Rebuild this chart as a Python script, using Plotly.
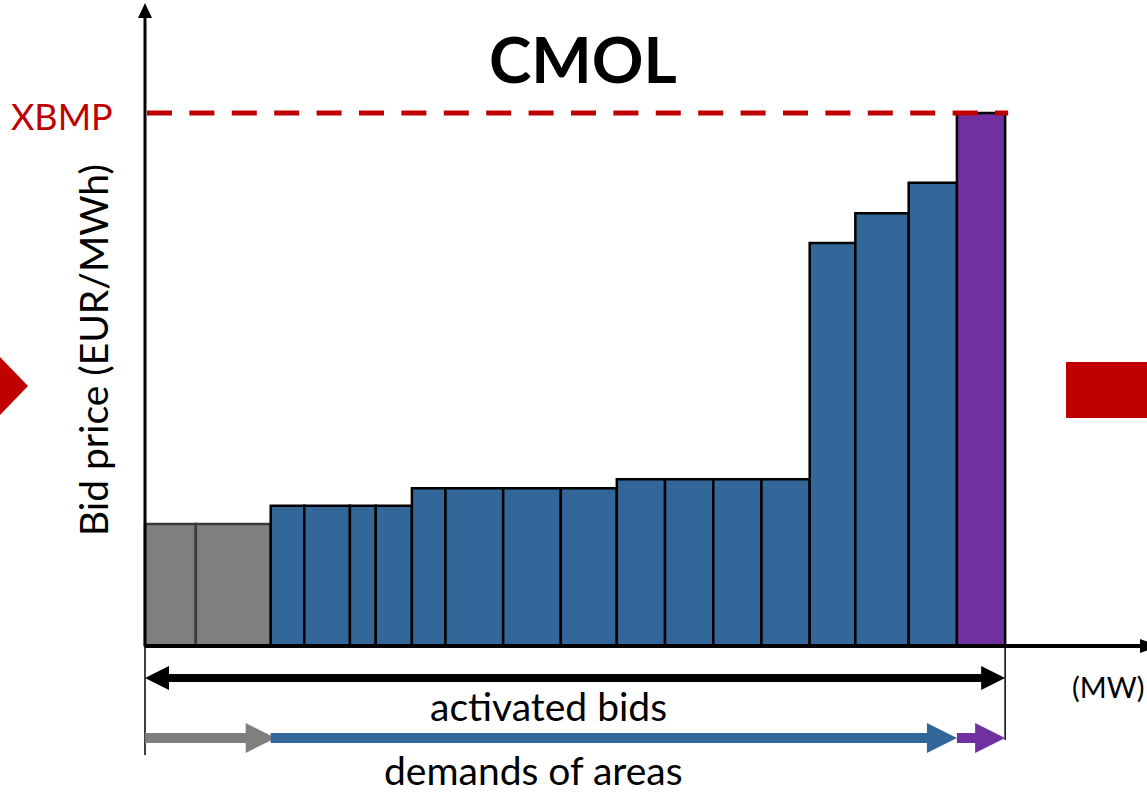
import numpy as np
import plotly.graph_objects as go

# ---- data ----
bid_widths_mw = [5.9, 8.7, 3.9, 5.3, 3.0, 4.2, 3.9, 6.7, 6.7, 6.5, 5.6, 5.6, 5.6, 5.6, 5.3, 6.2, 5.6, 5.6]
bid_prices = [22.9, 22.9, 26.3, 26.3, 26.3, 26.3, 29.6, 29.6, 29.6, 29.6, 31.3, 31.3, 31.3, 31.3, 75.6, 81.2, 86.9, 100.0]
bid_area = ["A", "A", "B", "B", "B", "B", "B", "B", "B", "B", "B", "B", "B", "B", "B", "B", "B", "C"]
xbmp_price = 100.0

# ---- layout geometry (pixels) ----
W, H = 1147, 792
X0_PX, PX_PER_MW = 145, 8.61
Y0_PX, PX_PER_EUR = 646, 5.33


def px2x(px):
    return (px - X0_PX) / PX_PER_MW


def px2y(py):
    return (Y0_PX - py) / PX_PER_EUR


def dx(px):
    return px / PX_PER_MW


def dy(px):
    return px / PX_PER_EUR


area_fill = {"A": "#7F7F7F", "B": "#336699", "C": "#7030A0"}
area_line = {"A": "#3A3A3A", "B": "#000000", "C": "#000000"}

edges = np.concatenate([[0], np.cumsum(bid_widths_mw)])
centers = (edges[:-1] + edges[1:]) / 2
total = edges[-1]

fig = go.Figure()
fig.add_trace(go.Bar(
    x=centers, y=bid_prices, width=bid_widths_mw,
    marker=dict(color=[area_fill[a] for a in bid_area],
                line=dict(color=[area_line[a] for a in bid_area], width=2.5)),
    hoverinfo="skip", showlegend=False,
))

shapes = []
RED = "#C00000"

# XBMP dashed line
shapes.append(dict(type="line", x0=px2x(147), x1=total + dx(3), y0=xbmp_price, y1=xbmp_price,
                   line=dict(color=RED, width=5, dash="25px,17.4px"), layer="above"))

# y axis with arrow
shapes.append(dict(type="line", x0=0, x1=0, y0=0, y1=px2y(14),
                   line=dict(color="black", width=3), layer="above"))
shapes.append(dict(type="path",
                   path=f"M {dx(-7)},{px2y(18)} L 0,{px2y(3)} L {dx(7)},{px2y(18)} Z",
                   fillcolor="black", line=dict(width=0), layer="above"))
# x axis with arrow
shapes.append(dict(type="line", x0=0, x1=px2x(1147), y0=0, y1=0,
                   line=dict(color="black", width=4), layer="above"))
shapes.append(dict(type="path",
                   path=f"M {px2x(1140)},{dy(7)} L {px2x(1160)},0 L {px2x(1140)},{dy(-7)} Z",
                   fillcolor="black", line=dict(width=0), layer="above"))

# thin vertical guides
shapes.append(dict(type="line", x0=0, x1=0, y0=0, y1=px2y(755),
                   line=dict(color="black", width=1.5)))
shapes.append(dict(type="line", x0=total, x1=total, y0=0, y1=px2y(740),
                   line=dict(color="black", width=1.5)))

# activated bids double arrow
ya = px2y(678)
shapes.append(dict(type="line", x0=dx(20), x1=total - dx(20), y0=ya, y1=ya,
                   line=dict(color="black", width=8)))
shapes.append(dict(type="path",
                   path=f"M 0,{ya} L {dx(24)},{ya + dy(12)} L {dx(24)},{ya - dy(12)} Z",
                   fillcolor="black", line=dict(width=0)))
shapes.append(dict(type="path",
                   path=f"M {total},{ya} L {total - dx(24)},{ya + dy(12)} L {total - dx(24)},{ya - dy(12)} Z",
                   fillcolor="black", line=dict(width=0)))

# demand arrows per area
yd = px2y(738)
areas_order = ["A", "B", "C"]
for a in areas_order:
    idx = [i for i, b in enumerate(bid_area) if b == a]
    s, e = edges[idx[0]], edges[idx[-1] + 1]
    tip = e + (dx(5) if a == "A" else 0)
    head = dx(30)
    shapes.append(dict(type="line", x0=s, x1=tip - head + dx(2), y0=yd, y1=yd,
                       line=dict(color=area_fill[a], width=10)))
    shapes.append(dict(type="path",
                       path=f"M {tip},{yd} L {tip - head},{yd + dy(15)} L {tip - head},{yd - dy(15)} Z",
                       fillcolor=area_fill[a], line=dict(width=0)))

# red decorations at the sides
shapes.append(dict(type="path",
                   path=f"M {px2x(-30)},{px2y(357)} L {px2x(0)},{px2y(357)} L {px2x(28)},{px2y(386)} L {px2x(0)},{px2y(415)} L {px2x(-30)},{px2y(415)} Z",
                   fillcolor=RED, line=dict(width=0)))
shapes.append(dict(type="rect", x0=px2x(1066), x1=px2x(1160), y0=px2y(418), y1=px2y(362),
                   fillcolor=RED, line=dict(width=0)))

FONT = "Lato, 'Open Sans', sans-serif"
annotations = [
    dict(x=px2x(583), y=px2y(58), text="<b>CMOL</b>", showarrow=False,
         font=dict(family=FONT, size=64, color="black")),
    dict(x=px2x(62), y=xbmp_price, text="XBMP", showarrow=False, yshift=-3,
         font=dict(family=FONT, size=36, color=RED)),
    dict(x=px2x(93), y=px2y(350), text="Bid price (EUR/MWh)", showarrow=False, textangle=-90,
         font=dict(family=FONT, size=39, color="black")),
    dict(x=px2x(548), y=px2y(706), text="activated bids", showarrow=False,
         font=dict(family=FONT, size=39, color="black")),
    dict(x=px2x(533), y=px2y(770), text="demands of areas", showarrow=False,
         font=dict(family=FONT, size=39, color="black")),
    dict(x=px2x(1145), y=px2y(686), text="(MW)", showarrow=False, xanchor="right",
         borderpad=0, font=dict(family=FONT, size=29, color="black")),
]

fig.update_layout(
    width=W, height=H, margin=dict(l=0, r=0, t=0, b=0),
    plot_bgcolor="white", paper_bgcolor="white",
    xaxis=dict(range=[px2x(0), px2x(W)], visible=False, fixedrange=True),
    yaxis=dict(range=[px2y(H), px2y(0)], visible=False, fixedrange=True),
    shapes=shapes, annotations=annotations, barmode="overlay", showlegend=False,
)

fig.write_html("out.html", config={"displayModeBar": False},
               post_script="document.body.style.margin='0';document.body.style.overflow='hidden';")
